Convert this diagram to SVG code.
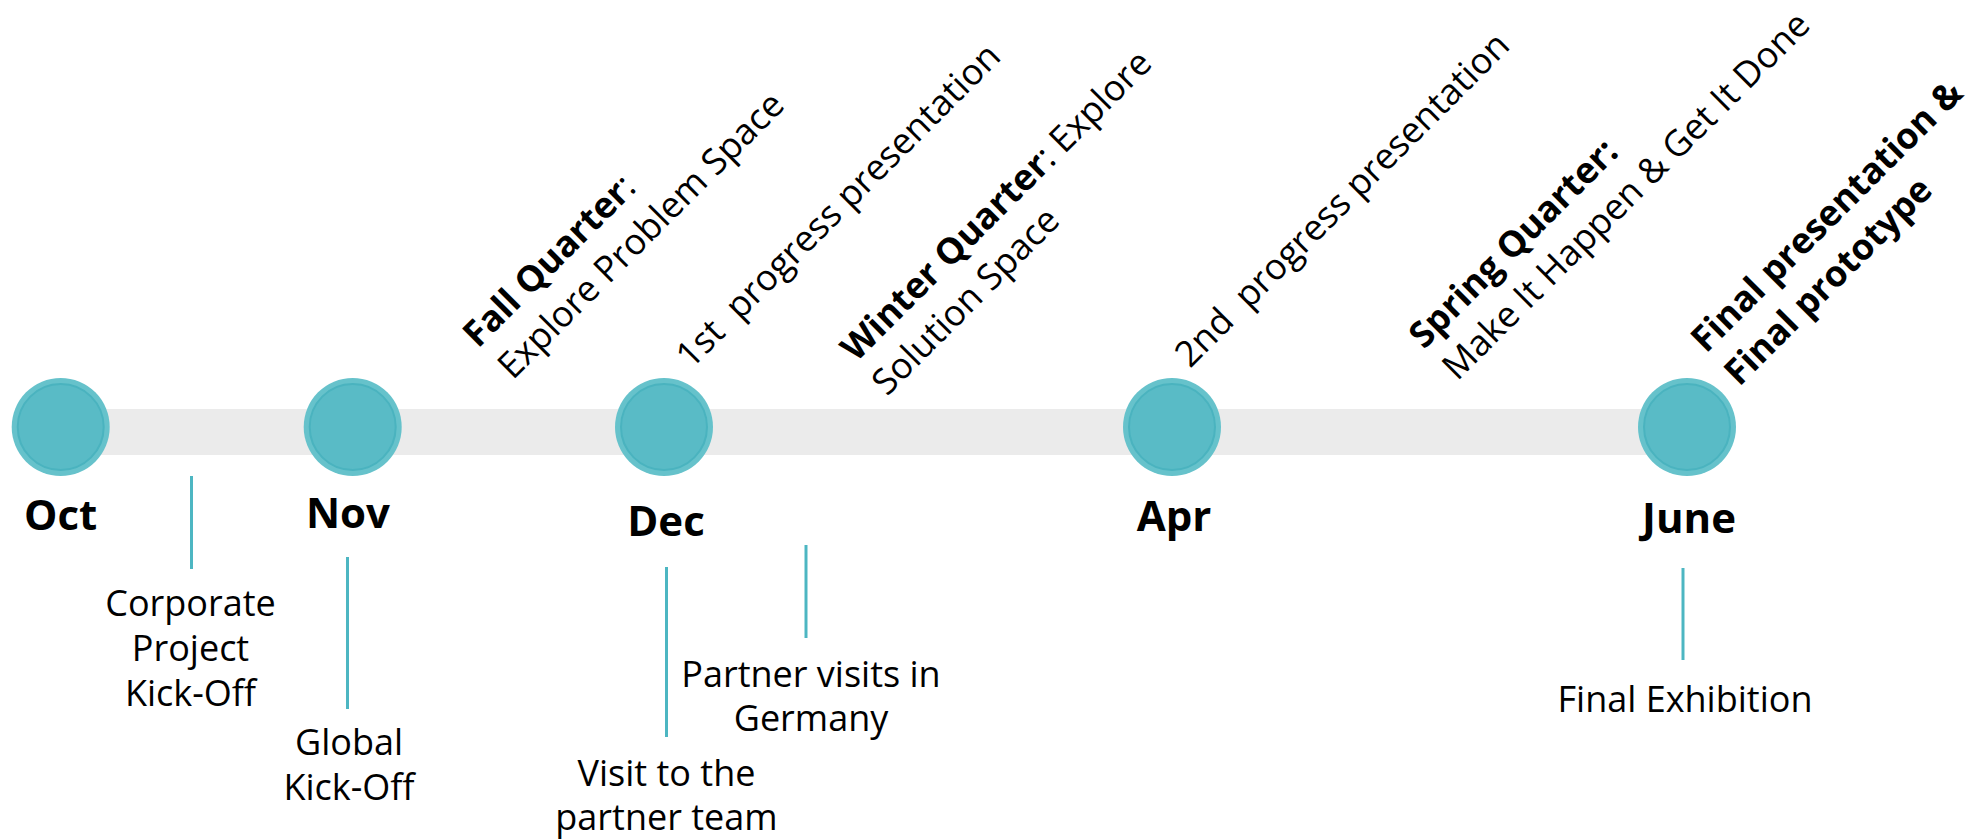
<svg xmlns="http://www.w3.org/2000/svg" width="1983" height="840" viewBox="0 0 1983 840">
<style>
.t{font-family:"Open Sans","Noto Sans","Liberation Sans",sans-serif;fill:#000}
.m{font-size:42px;font-weight:700;text-anchor:middle}
.s{font-size:36px;text-anchor:middle}
.r{font-size:36px;white-space:pre}
.b{font-weight:700}
.ln{stroke:#4db6c2;stroke-width:3}
.o{fill:#66c2cb}
.i{fill:#59bbc6;stroke:#4ab3bf;stroke-width:2}
</style>
<rect x="60" y="409" width="1630" height="46" fill="#ebebeb"/>
<g id="connectors">
<line class="ln" x1="191.5" y1="476" x2="191.5" y2="569"/>
<line class="ln" x1="347.5" y1="557" x2="347.5" y2="709"/>
<line class="ln" x1="666.5" y1="567" x2="666.5" y2="737"/>
<line class="ln" x1="806" y1="545" x2="806" y2="638"/>
<line class="ln" x1="1683" y1="568" x2="1683" y2="660"/>
</g>
<g id="oct"><circle class="o" cx="60.7" cy="427" r="49"/><circle class="i" cx="60.7" cy="427" r="43"/><text class="t m" x="60.7" y="530">Oct</text></g>
<g id="nov"><circle class="o" cx="352.7" cy="427" r="49"/><circle class="i" cx="352.7" cy="427" r="43"/><text class="t m" x="348" y="528">Nov</text></g>
<g id="dec"><circle class="o" cx="664" cy="427" r="49"/><circle class="i" cx="664" cy="427" r="43"/><text class="t m" x="666" y="536">Dec</text></g>
<g id="apr"><circle class="o" cx="1172" cy="427" r="49"/><circle class="i" cx="1172" cy="427" r="43"/><text class="t m" x="1174" y="531">Apr</text></g>
<g id="june"><circle class="o" cx="1687" cy="427" r="49"/><circle class="i" cx="1687" cy="427" r="43"/><text class="t m" x="1689" y="533">June</text></g>
<g id="corporate-kickoff"><text class="t s" x="190.5" y="616">Corporate<tspan x="190.5" dy="45">Project</tspan><tspan x="190.5" dy="45">Kick-Off</tspan></text></g>
<g id="global-kickoff"><text class="t s" x="349" y="755">Global<tspan x="349" dy="45">Kick-Off</tspan></text></g>
<g id="visit-partner"><text class="t s" x="666.5" y="786">Visit to the<tspan x="666.5" dy="44">partner team</tspan></text></g>
<g id="partner-visits"><text class="t s" x="811" y="687">Partner visits in<tspan x="811" dy="44">Germany</tspan></text></g>
<g id="final-exhibition"><text class="t s" x="1685" y="712">Final Exhibition</text></g>
<g id="fall-quarter"><text class="t r" transform="translate(478,349) rotate(-45)"><tspan class="b">Fall Quarter</tspan>:<tspan x="2" dy="47">Explore Problem Space</tspan></text></g>
<g id="progress-1"><text class="t r" transform="translate(691,370) rotate(-45)">1st  progress presentation</text></g>
<g id="winter-quarter"><text class="t r" transform="translate(856,363) rotate(-45)"><tspan class="b">Winter Quarter</tspan>: Explore<tspan x="-2" dy="46">Solution Space</tspan></text></g>
<g id="progress-2"><text class="t r" transform="translate(1190,369) rotate(-45)">2nd  progress presentation</text></g>
<g id="spring-quarter"><text class="t r" transform="translate(1424,350) rotate(-45)"><tspan class="b">Spring Quarter:</tspan><tspan x="1" dy="46">Make It Happen &amp; Get It Done</tspan></text></g>
<g id="final-presentation"><text class="t r b" transform="translate(1706,354) rotate(-45)">Final presentation &amp;<tspan x="0" dy="47">Final prototype</tspan></text></g>
</svg>
